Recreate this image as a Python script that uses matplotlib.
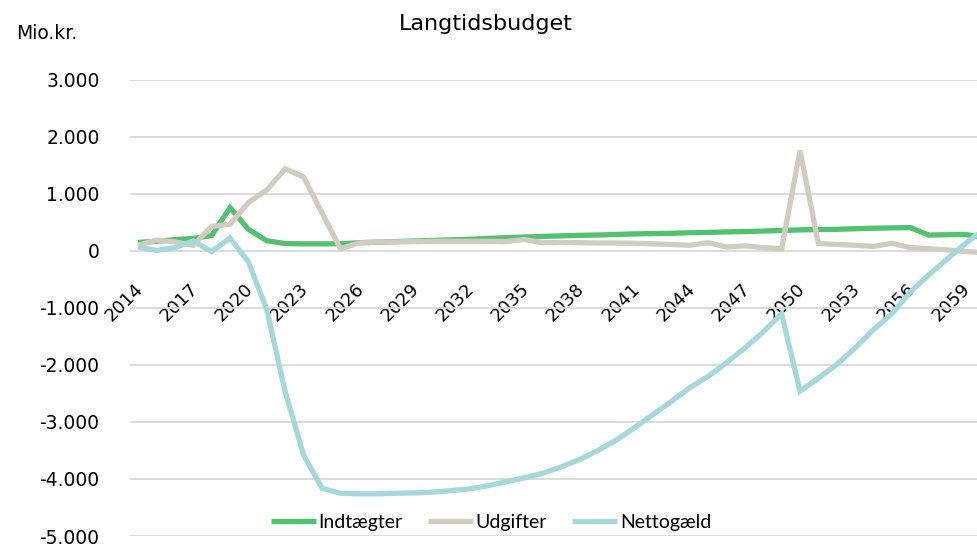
import numpy as np
import matplotlib
matplotlib.use("Agg")
import matplotlib.pyplot as plt
import matplotlib.transforms as mtransforms
from matplotlib.ticker import FuncFormatter

plt.rcParams['font.family'] = ['DejaVu Sans']

years = list(range(2014, 2061))

indtaegter = [150, 170, 200, 220, 270, 760, 380, 180, 130, 125,
              125, 125, 145, 155, 165, 175, 185, 195, 205, 220,
              235, 245, 255, 265, 275, 280, 290, 300, 305, 310,
              320, 325, 335, 340, 350, 360, 370, 375, 380, 390,
              400, 405, 410, 280, 285, 290, 230]

udgifter = [100, 190, 160, 100, 430, 470, 850, 1070, 1440, 1300,
            670, 40, 140, 155, 160, 165, 170, 170, 170, 170,
            165, 200, 145, 150, 145, 140, 140, 135, 125, 115,
            100, 145, 70, 90, 60, 40, 1760, 130, 115, 100,
            80, 135, 60, 40, 20, -10, -30]

nettogaeld = [70, 10, 60, 175, -10, 225, -190, -1030, -2470, -3580,
              -4160, -4250, -4260, -4260, -4250, -4245, -4230, -4205, -4175, -4120,
              -4050, -3980, -3900, -3790, -3660, -3500, -3320, -3100, -2870, -2640,
              -2400, -2200, -1960, -1700, -1420, -1100, -2460, -2230, -1990, -1700,
              -1380, -1100, -720, -420, -140, 130, 380]

labels = ['Indtægter', 'Udgifter', 'Nettogæld']
colors = ['#52c170', '#d0ccc0', '#a6d8da']

fig = plt.figure(figsize=(9.78, 5.44), dpi=100)
ax = fig.add_axes([0.133, 0.0147, 0.867, 0.8383])

for vals, lab, col in zip([indtaegter, udgifter, nettogaeld], labels, colors):
    ax.plot(years, vals, color=col, lw=3.8, label=lab, solid_joinstyle='miter',
            solid_capstyle='butt', zorder=3)

ax.set_xlim(2013.565, 2059.68)
ax.set_ylim(-5000, 3000)
ax.set_yticks(np.arange(-5000, 3001, 1000))
ax.yaxis.set_major_formatter(FuncFormatter(lambda v, p: f"{int(v):,}".replace(',', '.')))
ax.grid(axis='y', color='#d9d9d9', lw=1.3, zorder=0)

for s in ['top', 'right', 'left']:
    ax.spines[s].set_visible(False)
ax.spines['bottom'].set_position(('data', 0))
ax.spines['bottom'].set_visible(False)

ax.set_xticks(years[::3])
ax.set_xticklabels([str(y) for y in years[::3]], rotation=45, ha='right',
                   rotation_mode='anchor', fontsize=13)
ax.tick_params(axis='x', length=0, pad=21)
ax.tick_params(axis='y', length=0, pad=22, labelsize=13.5)
shift = mtransforms.ScaledTranslation(-4 / 100, 0, fig.dpi_scale_trans)
for t in ax.get_xticklabels():
    t.set_transform(t.get_transform() + shift)

fig.text(0.497, 0.955, 'Langtidsbudget', ha='center', va='center', fontsize=16)
fig.text(0.016, 0.938, 'Mio.kr.', ha='left', va='center', fontsize=13.5)

fig.legend(loc='center', bbox_to_anchor=(0.502, 0.04), ncol=3, frameon=False,
           prop={'family': ['Lato', 'DejaVu Sans'], 'size': 14},
           handlelength=2.3, handletextpad=0.15, columnspacing=1.3,
           borderaxespad=0)

fig.savefig('out.png', dpi=100)
